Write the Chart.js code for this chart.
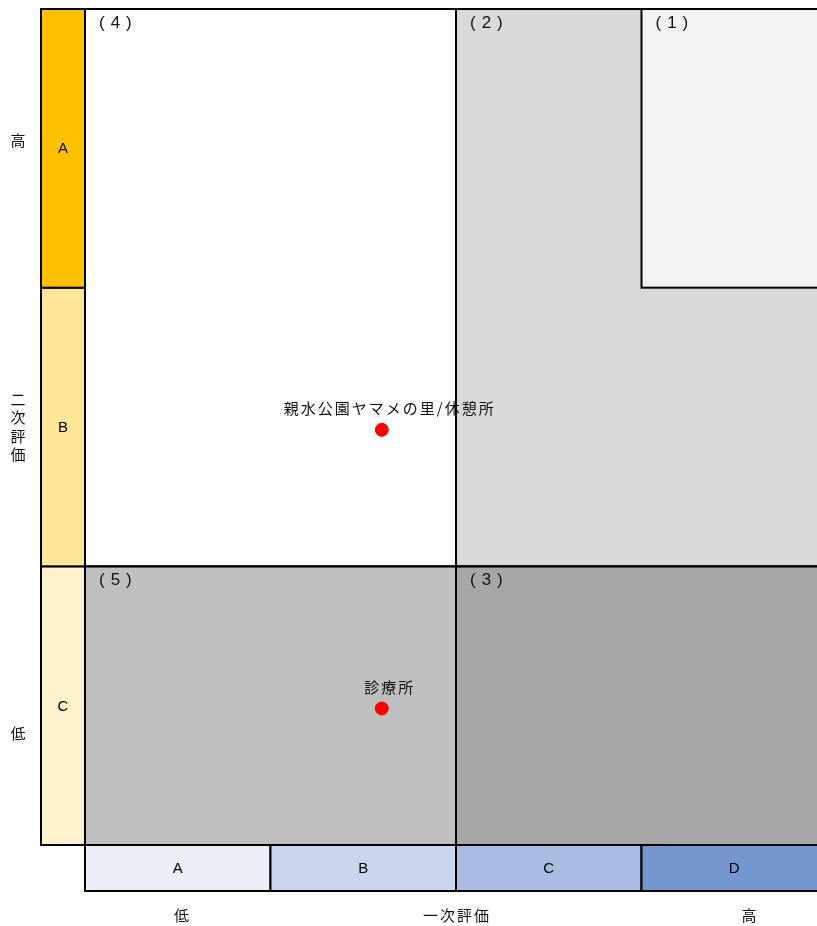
<!DOCTYPE html>
<html lang="ja">
<head>
    <meta charset="UTF-8">
    <title>評価マトリクス</title>
    <script src="https://cdn.jsdelivr.net/npm/chart.js"></script>
    <style>
        html, body { margin: 0; padding: 0; overflow: hidden; background: #fff; }
        canvas { display: block; }
    </style>
</head>
<body>
    <canvas id="matrix" width="840" height="926"></canvas>

    <script>
        // 一次評価 (横) と 二次評価 (縦) のランク
        const xRanks = ['A', 'B', 'C', 'D'];
        const yRanks = ['C', 'B', 'A'];
        const xRankColors = ['#EAEFF8', '#C9D6EE', '#A9BDE3', '#7497D0'];
        const yRankColors = ['#FFF2CC', '#FFE699', '#FFC000'];

        // 区分 (1)〜(5) の範囲 [x0, x1, y0, y1]
        const zoneNames = ['(2)', '(1)', '(3)', '(4)', '(5)'];
        const zoneRanges = [[2, 4, 1, 3], [3, 4, 2, 3], [2, 4, 0, 1], [0, 2, 1, 3], [0, 2, 0, 1]];
        const zoneColors = ['#D9D9D9', '#F2F2F2', '#A6A6A6', '#FFFFFF', '#BFBFBF'];

        // 施設
        const facilityNames = ['親水公園ヤマメの里/休憩所', '診療所'];
        const facilityX = [1.6, 1.6];
        const facilityY = [1.49, 0.49];

        const JP_FONT = '"Noto Sans CJK JP", "Noto Sans", sans-serif';
        const LATIN_FONT = '"Liberation Sans", Arial, sans-serif';

        const matrixPlugin = {
            id: 'matrix',
            beforeDatasetsDraw(chart) {
                const { ctx, chartArea: a, scales: { x, y } } = chart;
                ctx.save();

                // 区分の塗り
                zoneRanges.forEach((r, i) => {
                    const l = x.getPixelForValue(r[0]), rt = x.getPixelForValue(r[1]);
                    const t = y.getPixelForValue(r[3]), b = y.getPixelForValue(r[2]);
                    ctx.fillStyle = zoneColors[i];
                    ctx.fillRect(l, t, rt - l, b - t);
                });

                // 枠線と区分名
                ctx.strokeStyle = '#000';
                ctx.lineWidth = 2;
                ctx.font = '17px ' + LATIN_FONT;
                ctx.fillStyle = '#111';
                ctx.textAlign = 'left';
                ctx.textBaseline = 'middle';
                zoneRanges.forEach((r, i) => {
                    const l = x.getPixelForValue(r[0]), rt = x.getPixelForValue(r[1]);
                    const t = y.getPixelForValue(r[3]), b = y.getPixelForValue(r[2]);
                    ctx.strokeRect(l, t, rt - l, b - t);
                    ctx.letterSpacing = '6px';
                    ctx.fillText(zoneNames[i], l + 14, t + 14);
                    ctx.letterSpacing = '0px';
                });

                // 二次評価 (左のランク帯)
                const bandL = a.left - 44;
                yRanks.forEach((rank, i) => {
                    const t = y.getPixelForValue(i + 1), b = y.getPixelForValue(i);
                    ctx.fillStyle = yRankColors[i];
                    ctx.fillRect(bandL, t, 44, b - t);
                    ctx.strokeRect(bandL, t, 44, b - t);
                    ctx.fillStyle = '#000';
                    ctx.font = '15px ' + LATIN_FONT;
                    ctx.textAlign = 'center';
                    ctx.fillText(rank, bandL + 22, (t + b) / 2 + 1);
                });

                // 一次評価 (下のランク帯)
                const bandT = a.bottom;
                xRanks.forEach((rank, i) => {
                    const l = x.getPixelForValue(i), rt = x.getPixelForValue(i + 1);
                    ctx.fillStyle = xRankColors[i];
                    ctx.fillRect(l, bandT, rt - l, 46);
                    ctx.strokeRect(l, bandT, rt - l, 46);
                    ctx.fillStyle = '#000';
                    ctx.font = '15px ' + LATIN_FONT;
                    ctx.textAlign = 'center';
                    ctx.fillText(rank, (l + rt) / 2, bandT + 24);
                });

                // 軸の見出し
                ctx.fillStyle = '#111';
                ctx.font = '15px ' + JP_FONT;
                ctx.textAlign = 'center';
                const axX = 18;
                ctx.fillText('高', axX, y.getPixelForValue(2.53));
                ctx.fillText('低', axX, y.getPixelForValue(0.4));
                ['二', '次', '評', '価'].forEach((ch, i) => {
                    ctx.fillText(ch, axX, y.getPixelForValue(1.5) + (i - 1.5) * 18.5);
                });
                const axY = a.bottom + 70;
                ctx.fillText('低', x.getPixelForValue(0.52), axY);
                ctx.letterSpacing = '2px';
                ctx.fillText('一次評価', x.getPixelForValue(2) + 1, axY);
                ctx.letterSpacing = '0px';
                ctx.fillText('高', x.getPixelForValue(3.58), axY);

                ctx.restore();
            },
            afterDatasetsDraw(chart) {
                const { ctx } = chart;
                const meta = chart.getDatasetMeta(0);
                ctx.save();
                ctx.fillStyle = '#111';
                ctx.font = '15px ' + JP_FONT;
                ctx.letterSpacing = '2px';
                ctx.textAlign = 'center';
                ctx.textBaseline = 'middle';
                meta.data.forEach((pt, i) => {
                    ctx.fillText(facilityNames[i], pt.x + 8, pt.y - 21);
                });
                ctx.restore();
            }
        };

        new Chart(document.getElementById('matrix'), {
            type: 'scatter',
            data: {
                datasets: [{
                    data: facilityX.map((v, i) => ({ x: v, y: facilityY[i] })),
                    backgroundColor: '#FF0000',
                    borderColor: '#FF0000',
                    pointRadius: 6.5,
                    pointHoverRadius: 6.5
                }]
            },
            options: {
                responsive: false,
                animation: false,
                layout: { padding: { left: 85, top: 9, right: 13, bottom: 81 } },
                scales: {
                    x: { type: 'linear', min: 0, max: 4, display: false },
                    y: { type: 'linear', min: 0, max: 3, display: false }
                },
                plugins: {
                    legend: { display: false },
                    tooltip: { enabled: false }
                }
            },
            plugins: [matrixPlugin]
        });
    </script>
</body>
</html>
